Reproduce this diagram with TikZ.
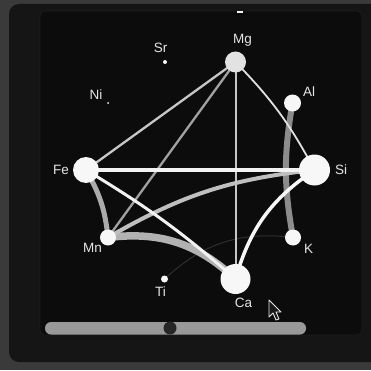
\documentclass[tikz,border=0pt]{standalone}
\usepackage{fontspec}
\setmainfont{Liberation Sans}
\pgfdeclarelayer{back}
\pgfdeclarelayer{edges}
\pgfsetlayers{back,edges,main}
\definecolor{bgout}{HTML}{3A3A3A}
\definecolor{panel}{HTML}{151515}
\definecolor{inner}{HTML}{0C0C0C}
\definecolor{labelc}{HTML}{E6E6E6}
\definecolor{nodew}{HTML}{F7F7F7}
\definecolor{nodemg}{HTML}{E2E2E2}
\tikzset{
  elem/.style={circle, fill=nodew, draw=none, inner sep=0pt, minimum size=#1},
  lbl/.style={text=labelc, font=\fontsize{13.5}{14}\selectfont, inner sep=0pt},
  link/.style={line cap=round, draw=#1},
}
\begin{document}
\begin{tikzpicture}[x=1pt,y=1pt]
\useasboundingbox (0,0) rectangle (371,370);
\begin{pgfonlayer}{back}
  \fill[bgout] (0,0) rectangle (371,370);
  \fill[panel, rounded corners=10pt] (9,8) rectangle (390,366);
  \fill[inner, rounded corners=5pt] (40,35) rectangle (362,359);
  \draw[color=black!88!white, line width=0.6pt, rounded corners=5pt] (40,35) rectangle (362,359);
  \fill[white!90!gray] (237,357) rectangle (243,359);
  \fill[black!40!white, rounded corners=6pt] (45,35.5) rectangle (306,48);
  \fill[black!85!white] (170,42) circle (6.5);
\end{pgfonlayer}

% element nodes
\node[elem=21pt, fill=nodemg] (Mg) at (235.5,308) {};
\node[elem=4pt] (Sr) at (165,308) {};
\node[elem=2pt] (Ni) at (108,267) {};
\node[elem=17pt] (Al) at (292.5,267) {};
\node[elem=26pt] (Fe) at (86,200) {};
\node[elem=31pt] (Si) at (314.5,200) {};
\node[elem=16pt] (Mn) at (108,132.5) {};
\node[elem=16pt] (K) at (293,132.5) {};
\node[elem=7pt] (Ti) at (164.5,91) {};
\node[elem=30pt] (Ca) at (235.5,91) {};

% labels
\node[lbl] (lMg) at (242.5,330) {Mg};
\node[lbl] (lSr) at (160.5,322) {Sr};
\node[lbl] (lNi) at (96,275) {Ni};
\node[lbl] (lAl) at (309,278) {Al};
\node[lbl] (lFe) at (61,200) {Fe};
\node[lbl] (lSi) at (341,200) {Si};
\node[lbl] (lMn) at (92.5,122.5) {Mn};
\node[lbl] (lK) at (308.5,121) {K};
\node[lbl] (lTi) at (160.5,78) {Ti};
\node[lbl] (lCa) at (243.5,67) {Ca};

\begin{pgfonlayer}{edges}
  \draw[link=black!82!white, line width=1pt] (Ti.center) to[bend left=25] (K.center);
  \draw[link=black!45!white, line width=6pt] (Al.center) to[bend right=10] (K.center);
  \draw[link=black!30!white, line width=7.5pt] (Mn.center) to[bend left=25] (Ca.center);
  \draw[link=black!33!white, line width=5pt] (Fe.center) to[bend left=12] (Mn.center);
  \draw[link=black!25!white, line width=4pt] (Mn.center) to[bend left=12] (Si.center);
  \draw[link=black!37!white, line width=2.3pt] (Mg.center) -- (Mn.center);
  \draw[link=black!22!white, line width=2.3pt] (Mg.center) -- (Fe.center);
  \draw[link=black!22!white, line width=2pt] (Mg.center) -- (Ca.center);
  \draw[link=black!12!white, line width=1.8pt] (Mg.center) to[bend left=8] (Si.center);
  \draw[link=black!5!white, line width=4pt] (Fe.center) -- (Si.center);
  \draw[link=black!5!white, line width=3pt] (Fe.center) to[bend left=5] (Ca.center);
  \draw[link=black!3!white, line width=3.5pt] (Ca.center) to[bend left=20] (Si.center);
\end{pgfonlayer}

% mouse pointer
\coordinate (c1) at (269,70);
\coordinate (c2) at (269,53);
\coordinate (c3) at (273,57);
\coordinate (c4) at (276,50);
\coordinate (c5) at (279,51);
\coordinate (c6) at (276,58);
\coordinate (c7) at (281,58);
\filldraw[fill=black!90!white, draw=white!80!gray, line width=0.9pt, line join=round] (c1) -- (c2) -- (c3) -- (c4) -- (c5) -- (c6) -- (c7) -- cycle;
\end{tikzpicture}
\end{document}
